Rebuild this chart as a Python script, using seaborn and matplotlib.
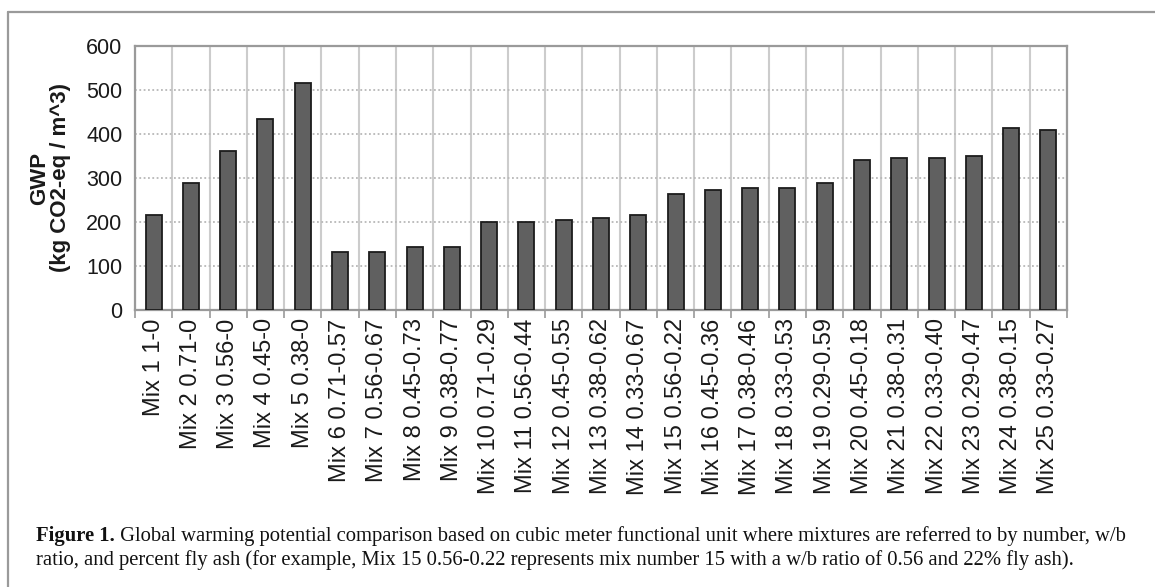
import numpy as np
import matplotlib
matplotlib.use("Agg")
import matplotlib.pyplot as plt
import seaborn as sns
from matplotlib.lines import Line2D

# data
mixes = ["Mix 1 1-0", "Mix 2 0.71-0", "Mix 3 0.56-0", "Mix 4 0.45-0", "Mix 5 0.38-0",
         "Mix 6 0.71-0.57", "Mix 7 0.56-0.67", "Mix 8 0.45-0.73", "Mix 9 0.38-0.77",
         "Mix 10 0.71-0.29", "Mix 11 0.56-0.44", "Mix 12 0.45-0.55", "Mix 13 0.38-0.62",
         "Mix 14 0.33-0.67", "Mix 15 0.56-0.22", "Mix 16 0.45-0.36", "Mix 17 0.38-0.46",
         "Mix 18 0.33-0.53", "Mix 19 0.29-0.59", "Mix 20 0.45-0.18", "Mix 21 0.38-0.31",
         "Mix 22 0.33-0.40", "Mix 23 0.29-0.47", "Mix 24 0.38-0.15", "Mix 25 0.33-0.27"]
gwp = [215, 289, 361, 434, 517, 132, 132, 143, 143, 200, 200, 205, 210, 215,
       263, 273, 278, 278, 289, 341, 346, 346, 351, 413, 408]
yticks = [0, 100, 200, 300, 400, 500, 600]

caption1 = ("Global warming potential comparison based on cubic meter functional unit "
            "where mixtures are referred to by number, w/b")
caption2 = ("ratio, and percent fly ash (for example, Mix 15 0.56-0.22 represents mix number 15 "
            "with a w/b ratio of 0.56 and 22% fly ash).")

sns.set_theme(style="white")
plt.rcParams["font.family"] = ["Liberation Sans", "DejaVu Sans"]

W, H = 1155, 587
fig = plt.figure(figsize=(W / 100, H / 100), dpi=100)
ax = fig.add_axes([135 / W, 1 - 310 / H, (1067 - 135) / W, (310 - 46) / H])

grey = "#9a9a9a"
sns.barplot(x=mixes, y=gwp, color="#606060", saturation=1, width=0.43,
            edgecolor="#1c1c1c", linewidth=1.3, ax=ax, zorder=3)

ax.set_xlim(-0.5, len(mixes) - 0.5)
ax.set_ylim(0, 600)
ax.set_yticks(yticks)
ax.tick_params(axis="y", labelsize=15.5, length=6, width=1.2, color=grey, pad=3,
               labelcolor="#1a1a1a")
ax.tick_params(axis="x", which="major", length=0, labelsize=17, rotation=90, pad=6,
               labelcolor="#1a1a1a")
ax.set_xticks(np.arange(-0.5, len(mixes)), minor=True)
ax.tick_params(axis="x", which="minor", length=6, width=1.2, color=grey, bottom=True)

# grid: solid light verticals between categories, dotted horizontals
ax.grid(which="minor", axis="x", color="#cccccc", linewidth=1.5, linestyle="-", zorder=0)
ax.grid(which="major", axis="y", color="#b8b8b8", linewidth=1.3,
        linestyle=(0, (1, 1.4)), zorder=0)
ax.grid(which="major", axis="x", visible=False)
ax.set_axisbelow(True)

for s in ax.spines.values():
    s.set_visible(True)
    s.set_color(grey)
    s.set_linewidth(1.6)

ax.set_ylabel("GWP\n(kg CO2-eq / m^3)", fontsize=16, fontweight="bold",
              color="#1a1a1a", linespacing=1.0)
ax.yaxis.set_label_coords(-64 / (1067 - 135), 0.5)

# outer frame of the figure panel
fig.add_artist(Line2D([8 / W, 8 / W], [1 - 12 / H, 0], color=grey, lw=1.6))
fig.add_artist(Line2D([8 / W, 1], [1 - 12 / H, 1 - 12 / H], color=grey, lw=1.6))

# caption: bold label then plain text, sized to the reference line width
serif = ["Liberation Serif", "DejaVu Serif"]
fig.canvas.draw()
r = fig.canvas.get_renderer()
fs = 12
t_b = fig.text(36 / W, 1 - 541 / H, "Figure 1.", fontsize=fs, fontweight="bold",
               family=serif, va="baseline", color="#111111")
t_1 = fig.text(0, 1 - 541 / H, " " + caption1, fontsize=fs, family=serif,
               va="baseline", color="#111111")
wb = t_b.get_window_extent(r).width
w1 = t_1.get_window_extent(r).width
fs = fs * (1090 / (wb + w1))
t_b.set_fontsize(fs)
t_1.set_fontsize(fs)
wb = t_b.get_window_extent(r).width
t_1.set_x((36 + wb) / W)
fig.text(36 / W, 1 - 565 / H, caption2, fontsize=fs, family=serif,
         va="baseline", color="#111111")

fig.savefig("out.png", dpi=100)
